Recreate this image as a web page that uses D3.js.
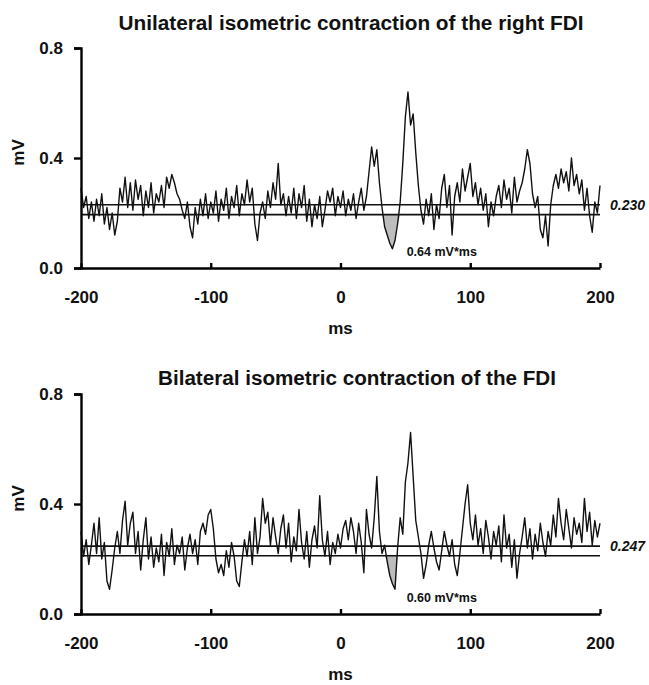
<!DOCTYPE html>
<html>
<head>
<meta charset="utf-8">
<script src="https://cdn.jsdelivr.net/npm/d3@7"></script>
<style>
  body { margin: 0; background: #fff; }
  svg { font-family: "Liberation Sans", Arial, sans-serif; }
  .axis path, .axis line { stroke: #000; stroke-width: 2.4; }
  .axis text { font-size: 17px; font-weight: bold; fill: #111; }
  .title { font-size: 19.5px; font-weight: bold; fill: #111; }
  .label { font-size: 17px; font-weight: bold; fill: #111; }
  .auc { font-size: 12.5px; font-weight: bold; fill: #111; }
  .level { font-size: 14px; font-weight: bold; font-style: italic; fill: #111; }
</style>
</head>
<body>
<div id="chart"></div>
<script>
// sampling grid of the averaged EMG traces (ms)
const sampleStart = -200;
const sampleStep = 2;

const xTicks = [-200, -100, 0, 100, 200];
const yTicks = [0.0, 0.4, 0.8];

const panelTitles = [
  "Unilateral isometric contraction of the right FDI",
  "Bilateral isometric contraction of the FDI"
];
const meanLevels = [0.230, 0.247];       // upper horizontal line (labelled)
const lowerLevels = [0.194, 0.212];      // lower horizontal line
const aucLabels = ["0.64 mV*ms", "0.60 mV*ms"];
const shadeWindows = [[30, 48], [32, 46]];

// Unilateral, mV, -200..200 ms every 2 ms
const uniTrace = [
  0.29,0.22,0.26,0.18,0.24,0.17,0.25,0.19,0.27,0.16,
  0.22,0.14,0.20,0.12,0.17,0.29,0.24,0.33,0.22,0.31,
  0.21,0.32,0.25,0.30,0.19,0.28,0.22,0.31,0.20,0.27,
  0.24,0.30,0.22,0.33,0.29,0.34,0.31,0.27,0.25,0.21,
  0.18,0.24,0.15,0.11,0.22,0.16,0.25,0.19,0.27,0.18,
  0.24,0.20,0.28,0.17,0.25,0.21,0.29,0.18,0.26,0.22,
  0.30,0.19,0.27,0.23,0.32,0.24,0.29,0.16,0.10,0.20,
  0.24,0.18,0.28,0.22,0.31,0.25,0.38,0.23,0.27,0.19,
  0.26,0.20,0.29,0.18,0.27,0.22,0.30,0.17,0.25,0.15,
  0.23,0.18,0.26,0.15,0.21,0.28,0.24,0.29,0.19,0.26,
  0.22,0.28,0.19,0.25,0.21,0.27,0.18,0.24,0.29,0.21,
  0.26,0.35,0.44,0.37,0.43,0.31,0.22,0.15,0.12,0.09,
  0.07,0.10,0.16,0.24,0.38,0.55,0.64,0.52,0.56,0.42,
  0.30,0.21,0.16,0.25,0.19,0.27,0.14,0.23,0.18,0.29,
  0.34,0.22,0.30,0.12,0.26,0.31,0.24,0.36,0.28,0.33,
  0.38,0.26,0.31,0.23,0.29,0.21,0.27,0.15,0.24,0.19,
  0.26,0.30,0.22,0.32,0.25,0.29,0.20,0.33,0.24,0.28,
  0.31,0.36,0.43,0.38,0.27,0.22,0.26,0.14,0.11,0.19,
  0.08,0.23,0.30,0.34,0.29,0.36,0.31,0.35,0.28,0.40,
  0.30,0.34,0.27,0.32,0.21,0.29,0.19,0.13,0.24,0.20,
  0.30
];

// Bilateral, mV, -200..200 ms every 2 ms
const biTrace = [
  0.30,0.21,0.27,0.18,0.25,0.33,0.22,0.35,0.20,0.26,
  0.12,0.09,0.16,0.24,0.30,0.22,0.34,0.41,0.25,0.33,
  0.37,0.22,0.30,0.16,0.27,0.35,0.20,0.28,0.17,0.24,
  0.19,0.29,0.14,0.26,0.21,0.31,0.18,0.25,0.22,0.28,
  0.16,0.24,0.29,0.22,0.27,0.18,0.30,0.33,0.29,0.36,
  0.38,0.31,0.20,0.15,0.18,0.14,0.23,0.17,0.26,0.21,
  0.12,0.10,0.19,0.27,0.21,0.30,0.18,0.35,0.22,0.28,
  0.42,0.33,0.37,0.25,0.35,0.28,0.22,0.31,0.36,0.24,
  0.33,0.19,0.28,0.23,0.38,0.26,0.20,0.30,0.17,0.27,
  0.32,0.24,0.43,0.27,0.21,0.30,0.18,0.26,0.22,0.29,
  0.24,0.31,0.34,0.27,0.35,0.30,0.22,0.33,0.26,0.15,
  0.38,0.29,0.24,0.35,0.50,0.30,0.22,0.25,0.19,0.14,
  0.11,0.09,0.24,0.35,0.29,0.48,0.55,0.66,0.50,0.34,
  0.28,0.22,0.13,0.18,0.25,0.30,0.24,0.19,0.16,0.23,
  0.30,0.25,0.21,0.27,0.18,0.14,0.22,0.31,0.40,0.47,
  0.33,0.27,0.36,0.25,0.31,0.22,0.34,0.28,0.20,0.30,
  0.25,0.32,0.19,0.36,0.24,0.29,0.17,0.27,0.13,0.22,
  0.28,0.35,0.24,0.31,0.20,0.29,0.23,0.33,0.26,0.21,
  0.30,0.25,0.36,0.28,0.42,0.33,0.27,0.38,0.31,0.24,
  0.35,0.29,0.33,0.26,0.42,0.30,0.37,0.25,0.34,0.28,
  0.33
];

class EmgPanel {

  constructor(_config, _data) {
    this.config = {
      parent: _config.parent,
      top: _config.top,
      titleX: _config.titleX,
      titleWidth: _config.titleWidth,
      margin: { left: 81, right: 49 },
      plotHeight: 220,
      titleBaseline: _config.titleBaseline
    };
    this.data = _data;
    this.initVis();
  }

  initVis() {
    let vis = this;
    vis.width = 649 - vis.config.margin.left - vis.config.margin.right;
    vis.height = vis.config.plotHeight;

    vis.g = vis.config.parent.append("g")
      .attr("transform", `translate(${vis.config.margin.left},${vis.config.top})`);

    vis.xScale = d3.scaleLinear().domain([-200, 200]).range([0, vis.width]);
    vis.yScale = d3.scaleLinear().domain([0, 0.8]).range([vis.height, 0]);

    vis.xAxis = d3.axisBottom(vis.xScale)
      .tickValues(xTicks)
      .tickSize(-5)
      .tickSizeOuter(0)
      .tickPadding(23)
      .tickFormat(d => String(d));

    vis.yAxis = d3.axisLeft(vis.yScale)
      .tickValues(yTicks)
      .tickSize(7)
      .tickSizeOuter(7)
      .tickPadding(11)
      .tickFormat(d3.format(".1f"));

    vis.renderVis();
  }

  renderVis() {
    let vis = this;
    const d = vis.data;
    const pts = d.trace.map((v, i) => ({ t: sampleStart + i * sampleStep, v: v }));

    // shaded area under the lower line (inhibition)
    const shadePts = pts.filter(p => p.t >= d.shade[0] && p.t <= d.shade[1]);
    const area = d3.area()
      .x(p => vis.xScale(p.t))
      .y0(vis.yScale(d.lower))
      .y1(p => vis.yScale(Math.min(p.v, d.lower)));
    vis.g.append("path")
      .datum(shadePts)
      .attr("fill", "#bdbdbd")
      .attr("d", area);

    // trace
    const line = d3.line()
      .x(p => vis.xScale(p.t))
      .y(p => vis.yScale(p.v));
    vis.g.append("path")
      .datum(pts)
      .attr("fill", "none")
      .attr("stroke", "#111")
      .attr("stroke-width", 1.4)
      .attr("stroke-linejoin", "round")
      .attr("d", line);

    // horizontal reference lines
    [d.mean, d.lower].forEach(lv => {
      vis.g.append("line")
        .attr("x1", 0).attr("x2", vis.width)
        .attr("y1", vis.yScale(lv)).attr("y2", vis.yScale(lv))
        .attr("stroke", "#111")
        .attr("stroke-width", 1.6);
    });

    vis.g.append("text")
      .attr("class", "level")
      .attr("x", vis.width + 10)
      .attr("y", vis.yScale(d.mean) + 5)
      .text(d3.format(".3f")(d.mean));

    vis.g.append("text")
      .attr("class", "auc")
      .attr("x", vis.xScale(51))
      .attr("y", vis.height - 12)
      .text(d.auc);

    // axes
    vis.g.append("g")
      .attr("class", "axis x-axis")
      .attr("transform", `translate(0,${vis.height})`)
      .call(vis.xAxis);

    vis.g.append("g")
      .attr("class", "axis y-axis")
      .call(vis.yAxis);

    vis.g.append("text")
      .attr("class", "label")
      .attr("text-anchor", "middle")
      .attr("x", vis.xScale(0))
      .attr("y", vis.height + 66)
      .text("ms");

    vis.g.append("text")
      .attr("class", "label")
      .attr("text-anchor", "middle")
      .attr("transform", `translate(-57,${vis.yScale(0.42)}) rotate(-90)`)
      .text("mV");

    vis.config.parent.append("text")
      .attr("class", "title")
      .attr("text-anchor", "middle")
      .attr("x", vis.config.titleX)
      .attr("y", vis.config.titleBaseline)
      .attr("textLength", vis.config.titleWidth)
      .attr("lengthAdjust", "spacingAndGlyphs")
      .text(d.title);
  }
}

const svg = d3.select("#chart").append("svg")
  .attr("width", 649)
  .attr("height", 685);

new EmgPanel({ parent: svg, top: 48, titleX: 351, titleWidth: 465, titleBaseline: 30 }, {
  trace: uniTrace, title: panelTitles[0], mean: meanLevels[0], lower: lowerLevels[0],
  auc: aucLabels[0], shade: shadeWindows[0]
});

new EmgPanel({ parent: svg, top: 394, titleX: 357, titleWidth: 398, titleBaseline: 385 }, {
  trace: biTrace, title: panelTitles[1], mean: meanLevels[1], lower: lowerLevels[1],
  auc: aucLabels[1], shade: shadeWindows[1]
});
</script>
</body>
</html>
